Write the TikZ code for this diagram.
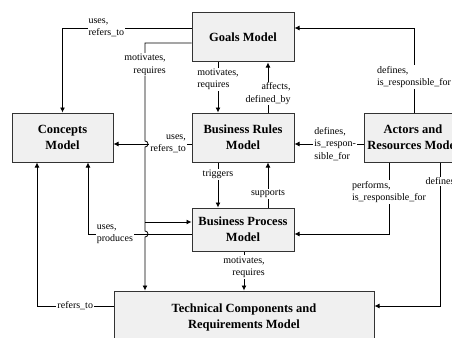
\documentclass[tikz,border=0pt]{standalone}
\usepackage{fontspec}
\setmainfont{Liberation Serif}
\usetikzlibrary{arrows.meta,positioning}

\tikzset{
    model/.style={rectangle, draw=black!80, fill=black!6, line width=1pt, align=center,
        font=\fontsize{12.5}{16}\selectfont\bfseries, inner sep=0pt,
        minimum width=102pt, minimum height=49pt},
    lbl/.style={fill=white, inner sep=1pt, font=\fontsize{10}{12.5}\selectfont, align=left},
    link/.style={->, line width=0.8pt},
}

\begin{document}
\begin{tikzpicture}[node distance=100pt, x=1pt, y=1pt, >={Latex[length=5pt,width=5pt]}]
    \clip (0,0) rectangle (452,-337);

    \node[model] (goals) at (243,-37.5) {Goals Model};
    \node[model] (rules) [below of=goals] {Business Rules\\Model};
    \node[model] (concepts) [left of=rules, xshift=-80.5pt, minimum width=101pt] {Concepts\\Model};
    \node[model] (actors) [right of=rules, xshift=70pt, minimum width=98pt] {Actors and\\Resources Model};
    \node[model] (process) [below of=rules, yshift=8pt, minimum height=43pt] {Business Process\\Model};
    \node[model] (techn) [below of=process, yshift=12.5pt, xshift=1pt,
        minimum width=260pt, minimum height=52pt] {Technical Components and\\Requirements Model};

    % helper points
    \coordinate (trunk) at (145,0);
    \coordinate (hop1) at (145,-141);
    \coordinate (hop2) at (145,-231);
    \coordinate (g2p) at ([yshift=7.5pt]process.west);

    % goals
    \draw[link] ([yshift=9.5pt]goals.west) -| node[lbl, pos=0.33] {uses,\\refers\_to} (concepts.north);
    \draw[link] ([yshift=-5.5pt]goals.west) -| node[lbl, pos=0.61, align=right] {motivates,\\requires} (hop1)
        arc[start angle=90, end angle=-90, radius=3pt] -- (hop2)
        arc[start angle=90, end angle=-90, radius=3pt] -- (trunk |- techn.north);
    \draw[link] (trunk |- g2p) -- (g2p);
    \draw[link] ([xshift=-25pt]goals.south) -- node[lbl, pos=0.34] {motivates,\\requires} ([xshift=-25pt]rules.north);

    % business rules
    \draw[link] ([xshift=25pt]rules.north) -- node[lbl, pos=0.38, align=right] {affects,\\defined\_by} ([xshift=25pt]goals.south);
    \draw[link] ([yshift=-6.5pt]rules.west) -- node[lbl, pos=0.3, align=right] {uses,\\refers\_to} ([yshift=-6.5pt]concepts.east);
    \draw[link] ([xshift=-25pt]rules.south) -- node[lbl, pos=0.26] {triggers} ([xshift=-25pt]process.north);

    % business process
    \draw[link] ([xshift=25pt]process.north) -- node[lbl, pos=0.3] {supports} ([xshift=25pt]rules.south);
    \draw[link] ([yshift=-4.5pt]process.west) -| node[lbl, pos=0.37] {uses,\\produces} ([xshift=25.5pt]concepts.south);
    \draw[link] ([xshift=1pt]process.south) -- node[lbl, pos=0.4, align=right] {motivates,\\requires} (techn.north);

    % technical components
    \draw[link] ([yshift=11pt]techn.west) -| node[lbl, pos=0.25] {refers\_to} ([xshift=-25.5pt]concepts.south);

    % actors
    \draw[link] ([xshift=1pt]actors.north) |- node[lbl, pos=0.21] {defines,\\is\_responsible\_for} ([yshift=9.5pt]goals.east);
    \draw[link] ([yshift=-6.5pt]actors.west) -- node[lbl, pos=0.41] {defines,\\is\_respon-\\sible\_for} ([yshift=-6.5pt]rules.east);
    \draw[link] ([xshift=-24pt]actors.south) |- node[lbl, pos=0.205] {performs,\\is\_responsible\_for} ([yshift=-4.5pt]process.east);
    \draw[link] ([xshift=27pt]actors.south) |- node[lbl, pos=0.066] {defines} ([yshift=11pt]techn.east);
\end{tikzpicture}
\end{document}
